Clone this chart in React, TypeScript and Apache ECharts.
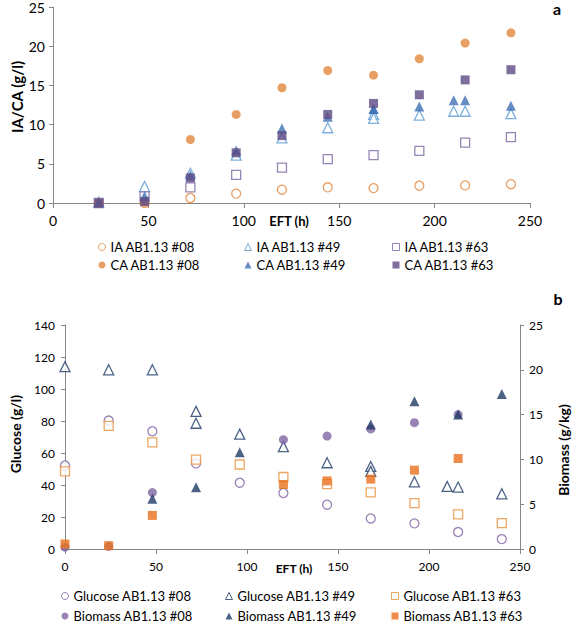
import React, { useEffect, useRef } from "react";
import * as echarts from "echarts";

const FONT = "Lato, 'Liberation Sans', sans-serif";

// ---------- Panel a (IA / CA) ----------
const tA = [24, 48, 72, 96, 120, 144, 168, 192, 216, 240];
const ia08 = [0, 0, 0.64, 1.2, 1.7, 2.0, 1.9, 2.2, 2.25, 2.4];
const ca08 = [0, 0.1, 8.1, 11.3, 14.7, 16.9, 16.3, 18.4, 20.4, 21.7];
const t49 = [24, 48, 72, 96, 120, 144, 168, 168, 192, 210, 216, 240];
const ia49 = [0.1, 2.1, 3.8, 6.1, 8.3, 9.6, 11.3, 10.8, 11.2, 11.7, 11.7, 11.4];
const ca49 = [0.1, 0.9, 3.5, 6.7, 9.5, 11.0, 12.0, 12.0, 12.3, 13.1, 13.1, 12.4];
const ia63 = [0, 0.85, 2.0, 3.6, 4.5, 5.6, 6.1, 6.65, 7.7, 8.4];
const ca63 = [0, 0.2, 3.2, 6.4, 8.6, 11.3, 12.7, 13.8, 15.7, 17.0];

// ---------- Panel b (Glucose / Biomass) ----------
const tB = [0, 24, 48, 72, 96, 120, 144, 168, 192, 216, 240];
const glu08 = [52.2, 80.3, 73.6, 53.5, 41.4, 35.0, 27.7, 19.1, 16.0, 10.6, 6.2];
const tGlu49 = [0, 24, 48, 72, 72, 96, 120, 144, 168, 168, 192, 210, 216, 240];
const glu49 = [114, 112, 112, 86, 78.6, 71.8, 64, 53.9, 51.6, 48.5, 42, 39.1, 38.7, 34.5];
const glu63 = [48.5, 77, 66.6, 55.8, 52.8, 45, 40.5, 35.4, 28.7, 21.6, 16.2];
const tBio08 = [0, 24, 48, 120, 144, 168, 192, 216];
const bio08 = [0.2, 0.3, 6.3, 12.2, 12.6, 13.4, 14.1, 15.0];
const tBio49 = [48, 72, 96, 168, 192, 216, 240];
const bio49 = [5.6, 6.9, 10.8, 13.9, 16.5, 15.0, 17.3];
const tBio63 = [0, 24, 48, 120, 144, 168, 192, 216];
const bio63 = [0.56, 0.37, 3.75, 7.2, 7.6, 7.8, 8.8, 10.1];

const xTicksInterval = 50;

const pairs = (t: number[], v: number[]) => t.map((x, i) => [x, v[i]]);

const AXIS_COLOR = "#868686";

function openSeries(name: string, symbol: string, color: string, data: number[][], xi: number, yi: number, size = 9) {
  return {
    type: "scatter",
    name,
    symbol,
    symbolSize: size,
    xAxisIndex: xi,
    yAxisIndex: yi,
    data,
    itemStyle: { color: "#ffffff", borderColor: color, borderWidth: 1.3 },
    emphasis: { disabled: true },
  };
}
function filledSeries(name: string, symbol: string, color: string, data: number[][], xi: number, yi: number, size = 9) {
  return {
    type: "scatter",
    name,
    symbol,
    symbolSize: size,
    xAxisIndex: xi,
    yAxisIndex: yi,
    data,
    itemStyle: { color, borderWidth: 0 },
    emphasis: { disabled: true },
  };
}

const xAxisBase = (gridIndex: number, fontSize: number, margin: number) => ({
  type: "value",
  gridIndex,
  min: 0,
  max: 250,
  interval: xTicksInterval,
  axisLine: { show: true, lineStyle: { color: AXIS_COLOR, width: 1 } },
  axisTick: { show: true, length: 5, lineStyle: { color: AXIS_COLOR } },
  splitLine: { show: false },
  axisLabel: { fontSize, color: "#000", fontFamily: FONT, margin },
});

const legendCol = (left: number, top: number, gap: number, data: string[]) => ({
  orient: "vertical",
  left,
  top,
  itemWidth: 7,
  itemHeight: 7,
  itemGap: gap,
  selectedMode: false,
  padding: 0,
  itemStyle: { borderWidth: 1 },
  textStyle: { fontSize: 13, color: "#000", fontFamily: FONT, lineHeight: 14 },
  data,
});

const option: any = {
  animation: false,
  backgroundColor: "#ffffff",
  grid: [
    { left: 53, top: 7, width: 477, height: 196 },
    { left: 65, top: 325, width: 455, height: 224 },
  ],
  xAxis: [xAxisBase(0, 14, 10), xAxisBase(1, 12, 11)],
  yAxis: [
    {
      type: "value",
      gridIndex: 0,
      min: 0,
      max: 25,
      interval: 5,
      axisLine: { show: true, lineStyle: { color: AXIS_COLOR } },
      axisTick: { show: true, length: 4, lineStyle: { color: AXIS_COLOR } },
      splitLine: { show: false },
      axisLabel: { fontSize: 14, color: "#000", fontFamily: FONT, margin: 8 },
    },
    {
      type: "value",
      gridIndex: 1,
      min: 0,
      max: 140,
      interval: 20,
      axisLine: { show: true, lineStyle: { color: AXIS_COLOR } },
      axisTick: { show: true, length: 4, lineStyle: { color: AXIS_COLOR } },
      splitLine: { show: false },
      axisLabel: { fontSize: 12, color: "#000", fontFamily: FONT, margin: 10 },
    },
    {
      type: "value",
      gridIndex: 1,
      position: "right",
      min: 0,
      max: 25,
      interval: 5,
      axisLine: { show: true, lineStyle: { color: AXIS_COLOR } },
      axisTick: { show: true, length: 4, lineStyle: { color: AXIS_COLOR } },
      splitLine: { show: false },
      axisLabel: { fontSize: 12, color: "#000", fontFamily: FONT, margin: 9 },
    },
  ],
  legend: [
    legendCol(98, 240, 4, ["IA AB1.13 #08", "CA AB1.13 #08"]),
    legendCol(244, 240, 4, ["IA AB1.13 #49", "CA AB1.13 #49"]),
    legendCol(392, 240, 4, ["IA AB1.13 #63", "CA AB1.13 #63"]),
    legendCol(61, 589, 6, ["Glucose AB1.13 #08", "Biomass AB1.13 #08"]),
    legendCol(225, 589, 6, ["Glucose AB1.13 #49", "Biomass AB1.13 #49"]),
    legendCol(391, 589, 6, ["Glucose AB1.13 #63", "Biomass AB1.13 #63"]),
  ],
  series: [
    openSeries("IA AB1.13 #08", "circle", "#E2873D", pairs(tA, ia08), 0, 0),
    openSeries("IA AB1.13 #49", "triangle", "#5B9BD5", pairs(t49, ia49), 0, 0, 10),
    openSeries("IA AB1.13 #63", "rect", "#7D66A3", pairs(tA, ia63), 0, 0),
    filledSeries("CA AB1.13 #08", "circle", "#E2873D", pairs(tA, ca08), 0, 0),
    filledSeries("CA AB1.13 #49", "triangle", "#3F70B5", pairs(t49, ca49), 0, 0, 10),
    filledSeries("CA AB1.13 #63", "rect", "#5E4A85", pairs(tA, ca63), 0, 0),

    openSeries("Glucose AB1.13 #08", "circle", "#8064A2", pairs(tB, glu08), 1, 1),
    openSeries("Glucose AB1.13 #49", "triangle", "#1F3B66", pairs(tGlu49, glu49), 1, 1, 10),
    openSeries("Glucose AB1.13 #63", "rect", "#E8913F", pairs(tB, glu63), 1, 1),
    filledSeries("Biomass AB1.13 #08", "circle", "#8064A2", pairs(tBio08, bio08), 1, 2),
    filledSeries("Biomass AB1.13 #49", "triangle", "#1F3B66", pairs(tBio49, bio49), 1, 2, 10),
    filledSeries("Biomass AB1.13 #63", "rect", "#E8711C", pairs(tBio63, bio63), 1, 2),
  ],
  graphic: [
    { type: "text", x: 557, y: 8, style: { text: "a", font: `bold 16px ${FONT}`, fill: "#000", align: "center", verticalAlign: "middle" } },
    { type: "text", x: 558, y: 298, style: { text: "b", font: `bold 16px ${FONT}`, fill: "#000", align: "center", verticalAlign: "middle" } },
    { type: "text", x: 289, y: 221, style: { text: "EFT (h)", font: `bold 13px ${FONT}`, fill: "#000", align: "center", verticalAlign: "middle" } },
    { type: "text", x: 294, y: 568, style: { text: "EFT (h)", font: `bold 12px ${FONT}`, fill: "#000", align: "center", verticalAlign: "middle" } },
    { type: "text", x: 17, y: 97, rotation: Math.PI / 2, style: { text: "IA/CA (g/l)", font: `bold 15px ${FONT}`, fill: "#000", align: "center", verticalAlign: "middle" } },
    { type: "text", x: 15, y: 434, rotation: Math.PI / 2, style: { text: "Glucose (g/l)", font: `bold 14px ${FONT}`, fill: "#000", align: "center", verticalAlign: "middle" } },
    { type: "text", x: 563, y: 450, rotation: Math.PI / 2, style: { text: "Biomass (g/kg)", font: `bold 14px ${FONT}`, fill: "#000", align: "center", verticalAlign: "middle" } },
  ],
};

export default function App() {
  const ref = useRef<HTMLDivElement>(null);
  useEffect(() => {
    document.body.style.margin = "0";
    const chart = echarts.init(ref.current!, null, { renderer: "svg" });
    chart.setOption(option);
    return () => chart.dispose();
  }, []);
  return <div ref={ref} style={{ width: 572, height: 624 }} />;
}
